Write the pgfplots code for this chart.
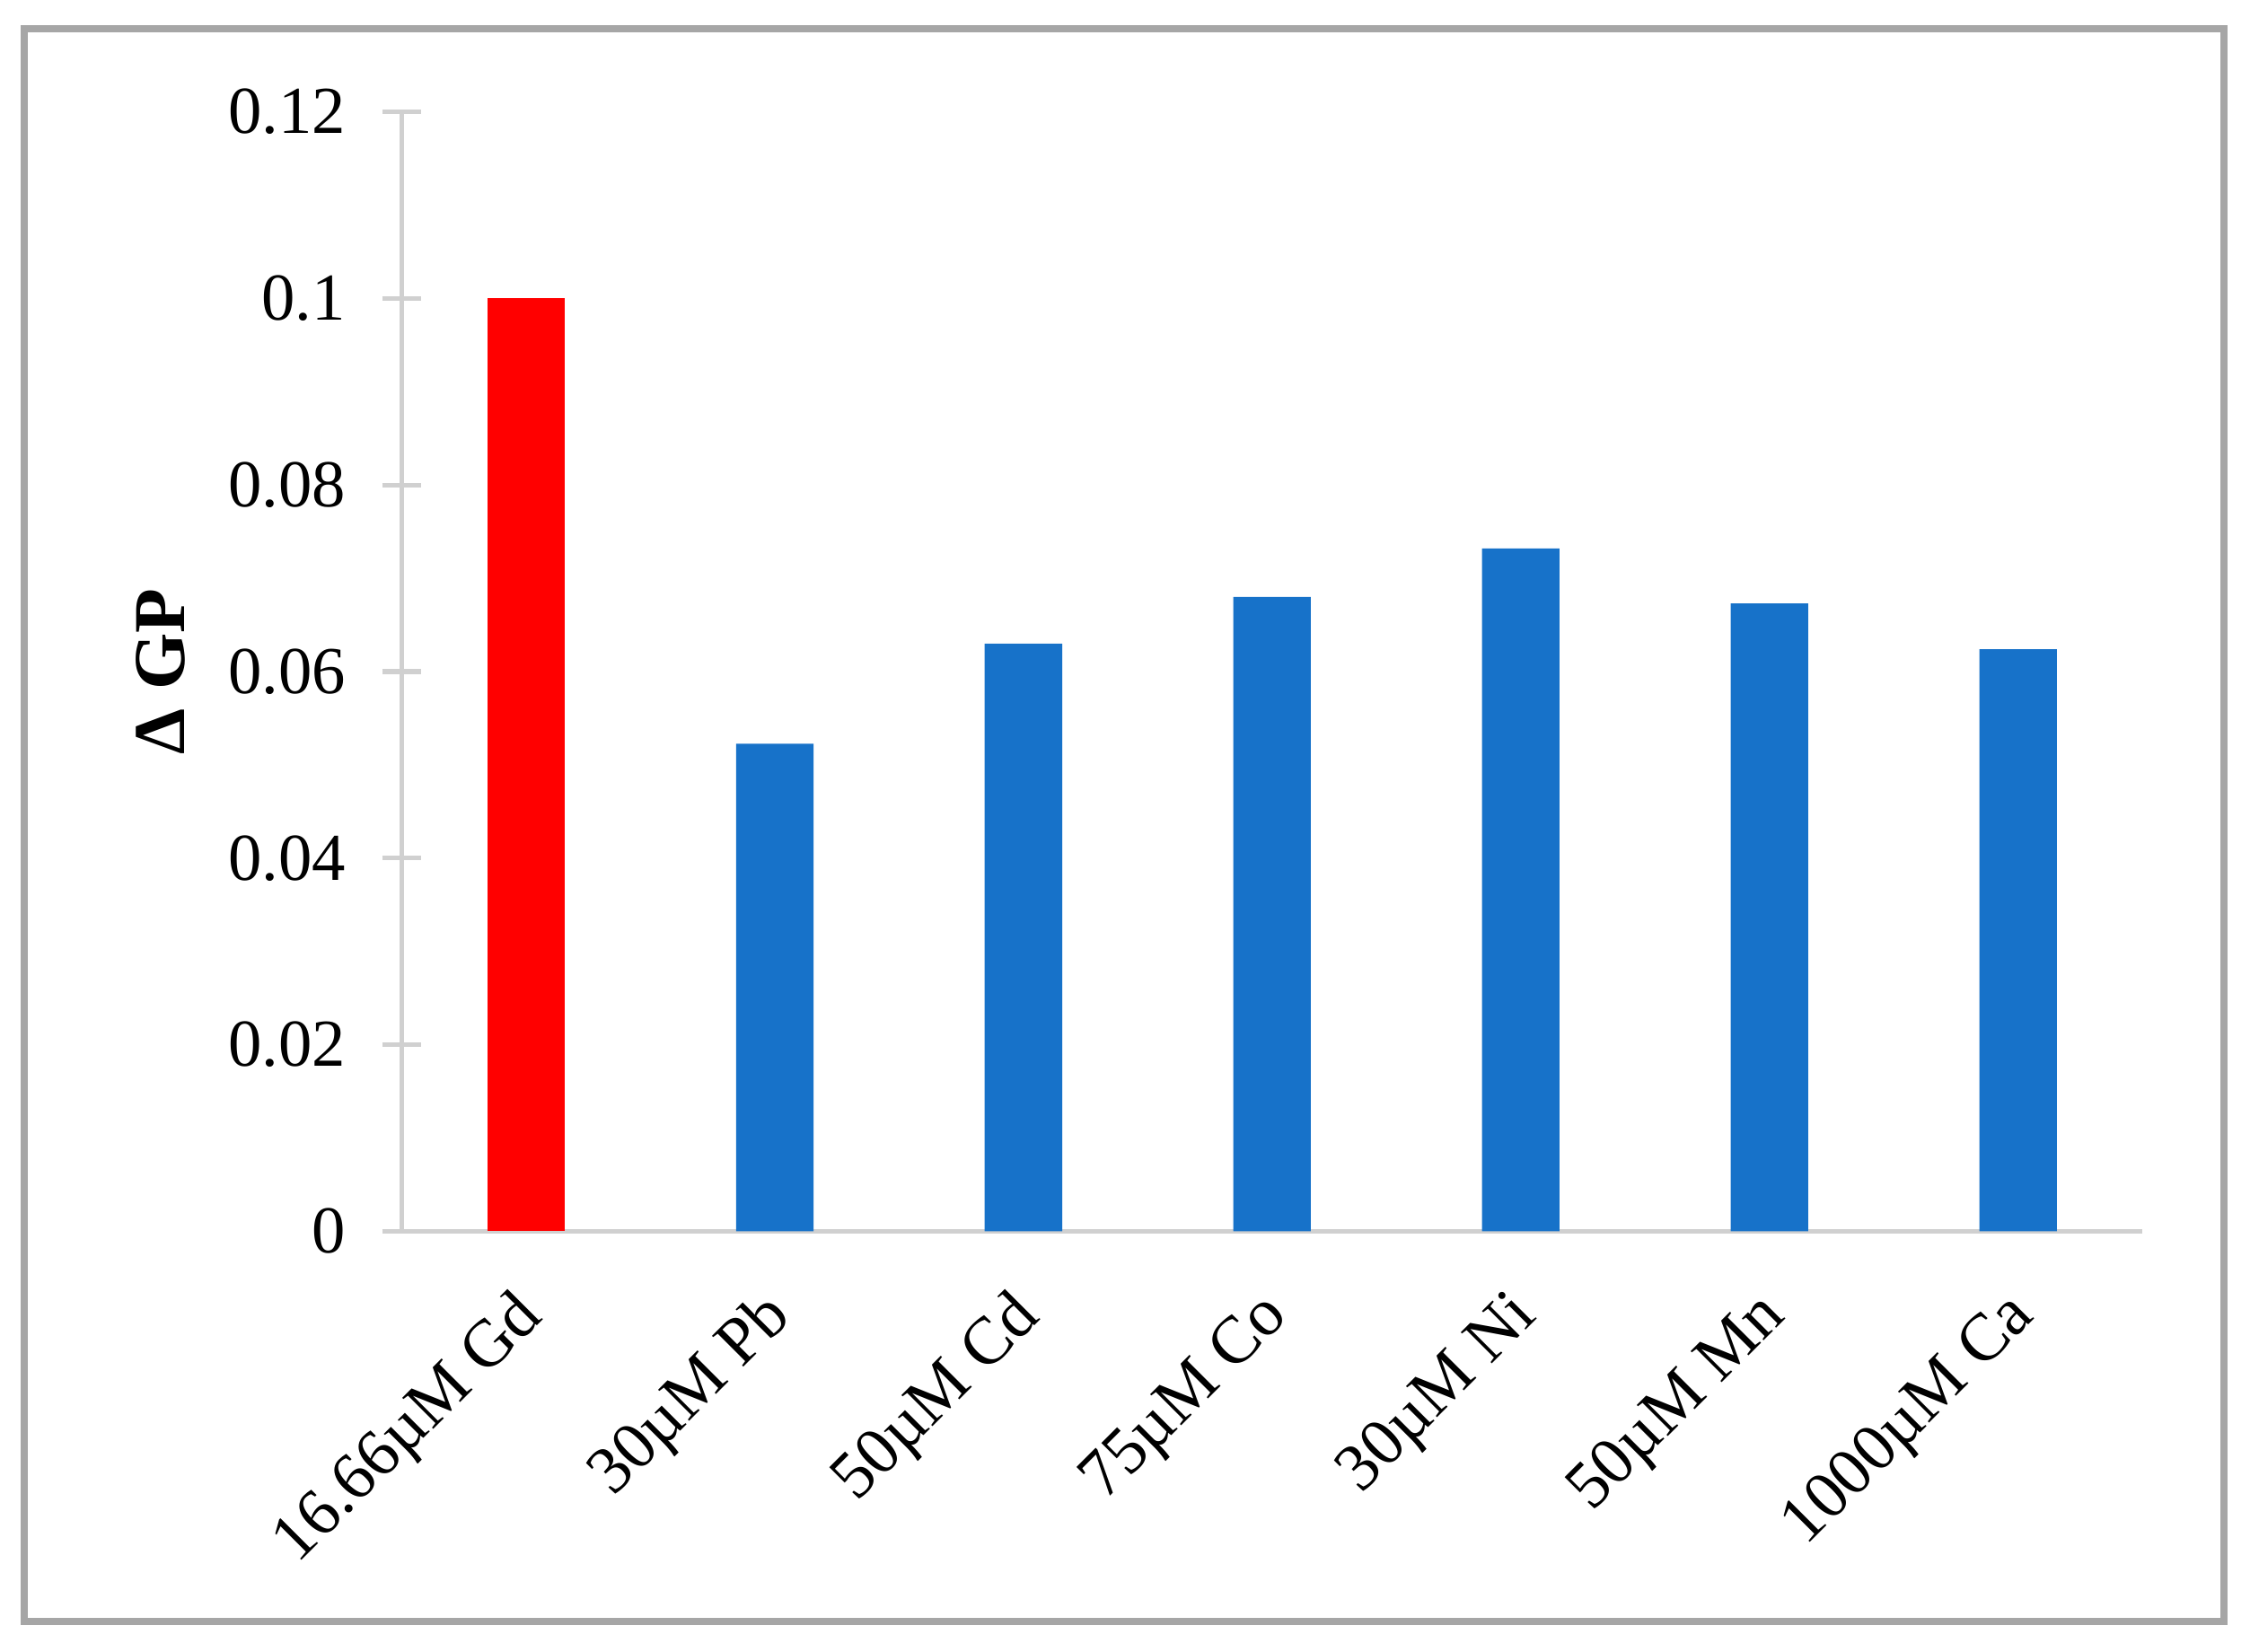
\documentclass[border=0pt]{standalone}
\usepackage{pgfplots}
\pgfplotsset{compat=1.18}
\usepackage{fontspec}
\setmainfont{Liberation Serif}
\definecolor{barred}{RGB}{255,0,0}
\definecolor{barblue}{RGB}{23,114,201}
\definecolor{axisgray}{RGB}{208,208,208}
\definecolor{framegray}{RGB}{166,166,166}
\begin{document}
\begin{tikzpicture}
\path[use as bounding box] (-28mm,-29.3mm) rectangle (128.8mm,85.8mm);
\begin{axis}[
  at={(0,0)}, anchor=south west,
  scale only axis, width=121.3mm, height=78mm,
  xmin=-0.5, xmax=6.5, ymin=0, ymax=0.12,
  ybar, bar width=5.4mm, bar shift=0pt,
  axis lines*=left,
  axis line style={draw=axisgray, line width=0.9pt},
  xtick={0,...,6},
  xticklabels={16.66µM Gd, 30µM Pb, 50µM Cd, 75µM Co, 30µM Ni, 50µM Mn, 1000µM Ca},
  xtick style={draw=none},
  ytick={0,0.02,0.04,0.06,0.08,0.1,0.12},
  yticklabels={0,0.02,0.04,0.06,0.08,0.1,0.12},
  ytick style={draw=axisgray, line width=0.9pt},
  tick align=center, major tick length=2.7mm,
  ticklabel style={font=\fontsize{13.3}{16}\selectfont},
  yticklabel style={inner sep=0pt, anchor=east, xshift=-2.5mm},
  xticklabel style={inner sep=0pt, anchor=east, xshift=0.5mm, yshift=-3.9mm, rotate=45},
  ylabel={\bfseries Δ GP},
  ylabel style={at={(axis description cs:-0.1385,0.5)}, anchor=center, font=\fontsize{14.5}{17}\selectfont},
  clip=false,
]
\addplot[fill=barred, draw=none] coordinates {(0,0.1)};
\addplot[fill=barblue, draw=none] coordinates {(1,0.05225) (2,0.0630) (3,0.0680) (4,0.0732) (5,0.0673) (6,0.0624)};
\end{axis}
\draw[framegray, line width=1.4pt] (-26.3mm,-27.2mm) rectangle (127mm,83.8mm);
\end{tikzpicture}
\end{document}
